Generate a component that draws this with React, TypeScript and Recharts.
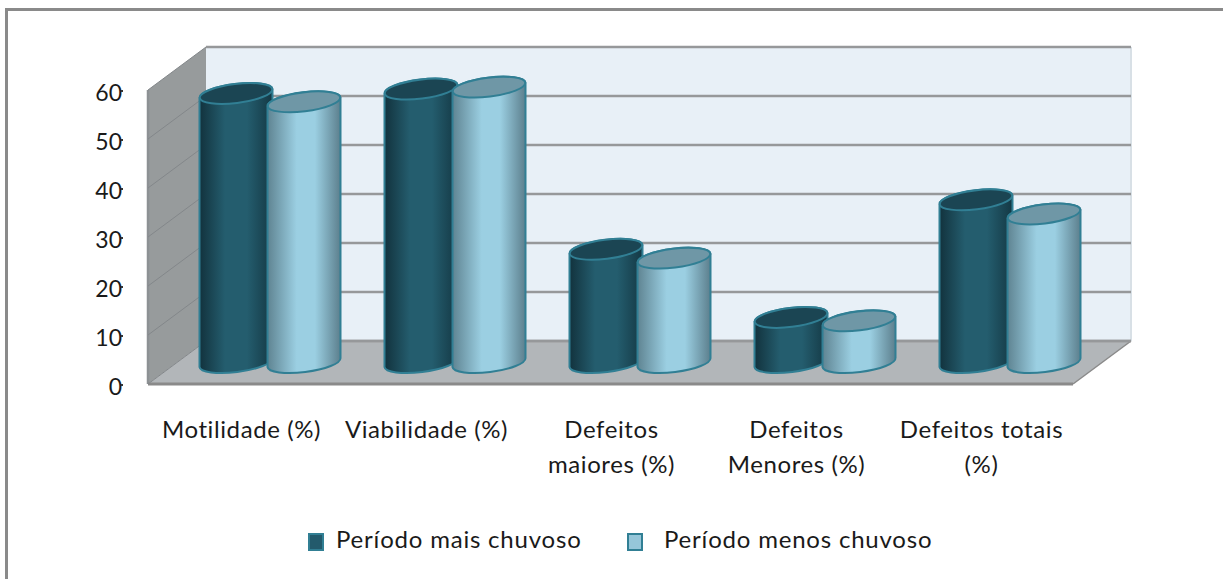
import {
  BarChart,
  Bar,
  XAxis,
  YAxis,
  CartesianGrid,
  Legend,
  ReferenceArea,
} from "recharts";

const categories = [
  "Motilidade (%)",
  "Viabilidade (%)",
  "Defeitos maiores (%)",
  "Defeitos Menores (%)",
  "Defeitos totais (%)",
];
const categoryLines = [
  ["Motilidade (%)"],
  ["Viabilidade (%)"],
  ["Defeitos", "maiores (%)"],
  ["Defeitos", "Menores (%)"],
  ["Defeitos totais", "(%)"],
];
const maisChuvoso = [54.9, 55.8, 23.1, 9.2, 33.2];
const menosChuvoso = [53.2, 56.2, 21.3, 8.5, 30.3];
const yTicks = [0, 10, 20, 30, 40, 50, 60];
const seriesNames = ["Período mais chuvoso", "Período menos chuvoso"];

const data = categories.map((name, i) => ({
  name,
  mais: maisChuvoso[i],
  menos: menosChuvoso[i],
}));

// half of the 3D depth: the bars sit mid-way between the front edge and the back wall
const DX = 29;
const DY = 21.5;
const FONT = "Lato, 'Open Sans', sans-serif";
const TEXT = "#1a1a1a";
const RIM = "#317f94";

function Walls({ x, y, width, height }: any) {
  const left = x - DX;
  const right = x + width + DX;
  const backLeft = x + DX;
  const frontRight = x + width - DX;
  const top = y - DY;
  const frontBottom = y + height + DY;
  const backBottom = y + height - DY;
  return (
    <g>
      <polygon
        points={`${backLeft},${top} ${right},${top} ${right},${backBottom} ${backLeft},${backBottom}`}
        fill="#e8f0f7"
      />
      <line x1={right} y1={top} x2={right} y2={backBottom} stroke="#d8e0e6" strokeWidth={2} />
      <polygon
        points={`${left},${y + DY} ${backLeft},${top} ${backLeft},${backBottom} ${left},${frontBottom}`}
        fill="#979b9c"
      />
      <polygon
        points={`${left},${frontBottom} ${backLeft},${backBottom} ${right},${backBottom} ${frontRight},${frontBottom}`}
        fill="#b2b6b9"
      />
      <line x1={left} y1={y + DY} x2={left} y2={frontBottom} stroke="#8d9194" strokeWidth={2.5} />
      <line x1={left} y1={frontBottom} x2={frontRight} y2={frontBottom} stroke="#8a8a8a" strokeWidth={3} />
      <line x1={frontRight} y1={frontBottom} x2={right} y2={backBottom} stroke="#8a8a8a" strokeWidth={1.5} />
      <line x1={backLeft} y1={backBottom} x2={right} y2={backBottom} stroke="#9a9a9a" strokeWidth={2.5} />
    </g>
  );
}

function gridLine(props: any) {
  const { x1, x2, y1 } = props;
  const back = y1 - DY;
  return (
    <g key={props.key ?? y1}>
      <line x1={x1 - DX} y1={y1 + DY} x2={x1 + DX} y2={back} stroke="#83878a" strokeWidth={1} />
      <line x1={x1 + DX} y1={back} x2={x2 + DX} y2={back} stroke="#96989a" strokeWidth={2.5} />
    </g>
  );
}

function Cylinder({ x, y, width, height, gradient, topFill }: any) {
  const rx = width / 2;
  const ry = 9.5;
  const tilt = 4.5;
  const rot = -7;
  const yTop = y;
  const yBase = y + height;
  const body =
    `M ${x} ${yTop + tilt} L ${x} ${yBase + tilt} ` +
    `A ${rx} ${ry} ${rot} 0 0 ${x + width} ${yBase - tilt} ` +
    `L ${x + width} ${yTop - tilt} ` +
    `A ${rx} ${ry} ${rot} 0 0 ${x} ${yTop + tilt} Z`;
  return (
    <g>
      <path d={body} fill={`url(#${gradient})`} stroke={RIM} strokeWidth={2} />
      <ellipse
        cx={x + rx}
        cy={yTop}
        rx={rx}
        ry={ry}
        transform={`rotate(${rot} ${x + rx} ${yTop})`}
        fill={topFill}
        stroke={RIM}
        strokeWidth={2}
      />
    </g>
  );
}

function YTick({ y, payload }: any) {
  return (
    <g>
      <text
        x={122}
        y={y + DY + 10.5}
        textAnchor="end"
        fontFamily={FONT}
        fontSize={23}
        fill={TEXT}
      >
        {payload.value}
      </text>
      <line x1={121} y1={y + DY + 1} x2={123} y2={y + DY + 1} stroke="#333" strokeWidth={2} />
    </g>
  );
}

function XTick({ x, payload, index }: any) {
  return (
    <text
      textAnchor="middle"
      fontFamily={FONT}
      fontSize={24}
      letterSpacing={0.6}
      fill={TEXT}
    >
      {categoryLines[index ?? payload.index].map((line: string, i: number) => (
        <tspan key={line} x={x - DX + 1} y={438 + i * 35}>
          {line}
        </tspan>
      ))}
    </text>
  );
}

function LegendBox() {
  const items = [
    { name: seriesNames[0], fill: "#235a6c", iconX: 308, textX: 336 },
    { name: seriesNames[1], fill: "#96c6d9", iconX: 627, textX: 664 },
  ];
  return (
    <div style={{ position: "relative", width: 1223, height: 40 }}>
      {items.map((it) => (
        <div key={it.name}>
          <div
            style={{
              position: "absolute",
              left: it.iconX,
              top: 11,
              width: 12,
              height: 14,
              background: it.fill,
              border: `2px solid ${RIM}`,
            }}
          />
          <div
            style={{
              position: "absolute",
              left: it.textX,
              top: 3,
              fontFamily: FONT,
              fontSize: 24,
              letterSpacing: 0.8,
              lineHeight: "28px",
              color: TEXT,
              whiteSpace: "nowrap",
            }}
          >
            {it.name}
          </div>
        </div>
      ))}
    </div>
  );
}

export default function App() {
  return (
    <div
      style={{
        position: "absolute",
        left: 0,
        top: 0,
        width: 1223,
        height: 579,
        overflow: "hidden",
        background: "#fff",
      }}
    >
      <div
        style={{
          position: "absolute",
          left: 5,
          top: 8,
          width: 1215,
          height: 580,
          borderLeft: "3px solid #8a8a8a",
          borderTop: "3px solid #8a8a8a",
          borderRight: "3px solid #8a8a8a",
        }}
      />
      <BarChart
        width={1223}
        height={579}
        data={data}
        margin={{ top: 68.5, right: 121, bottom: 156.5, left: 77 }}
        barCategoryGap={22.5}
        barGap={-5}
        style={{ position: "absolute", left: 0, top: 0 }}
      >
        <defs>
          <linearGradient id="darkCyl" x1="0" y1="0" x2="1" y2="0">
            <stop offset="0" stopColor="#12323d" />
            <stop offset="0.35" stopColor="#245d6e" />
            <stop offset="0.65" stopColor="#245d6e" />
            <stop offset="1" stopColor="#143844" />
          </linearGradient>
          <linearGradient id="lightCyl" x1="0" y1="0" x2="1" y2="0">
            <stop offset="0" stopColor="#5f8492" />
            <stop offset="0.4" stopColor="#9bcfe2" />
            <stop offset="0.65" stopColor="#9bcfe2" />
            <stop offset="1" stopColor="#5c7f8d" />
          </linearGradient>
        </defs>
        <ReferenceArea y1={0} y2={60} shape={Walls} zIndex={-200} ifOverflow="visible" />
        <CartesianGrid vertical={false} horizontal={gridLine} />
        <XAxis
          dataKey="name"
          height={60}
          axisLine={false}
          tickLine={false}
          interval={0}
          tick={XTick}
        />
        <YAxis
          width={100}
          domain={[0, 60]}
          ticks={yTicks}
          axisLine={false}
          tickLine={false}
          tick={YTick}
        />
        <Legend
          verticalAlign="middle"
          layout="horizontal"
          content={LegendBox}
          wrapperStyle={{ left: 0, top: 522, width: 1223, height: 40 }}
        />
        <Bar
          dataKey="mais"
          name={seriesNames[0]}
          isAnimationActive={false}
          shape={(p: any) => <Cylinder {...p} gradient="darkCyl" topFill="#1b4553" />}
        />
        <Bar
          dataKey="menos"
          name={seriesNames[1]}
          isAnimationActive={false}
          shape={(p: any) => <Cylinder {...p} gradient="lightCyl" topFill="#6f97a6" />}
        />
      </BarChart>
    </div>
  );
}
